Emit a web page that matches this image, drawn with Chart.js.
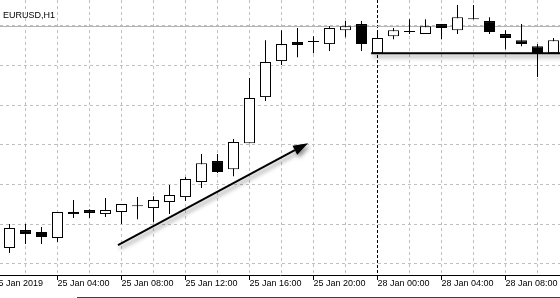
<!DOCTYPE html>
<html>
<head>
<meta charset="utf-8">
<title>EURUSD,H1</title>
<script src="https://cdn.jsdelivr.net/npm/chart.js@4.4.1/dist/chart.umd.min.js"></script>
<style>
  html, body { margin: 0; padding: 0; background: #fff; }
  #wrap { position: relative; width: 560px; height: 298px; overflow: hidden; }
</style>
</head>
<body>
<div id="wrap"><canvas id="chart" width="560" height="298"></canvas></div>
<script>
// hour index of each bar: 0 = 25 Jan 00:00 ... 23 = 25 Jan 23:00, 24 = 28 Jan 00:00
const barIndex = [1, 2, 3, 4, 5, 6, 7, 8, 9, 10, 11, 12, 13, 14, 15, 16, 17, 18, 19, 20, 21, 22, 23,
                  24, 25, 26, 27, 28, 29, 30, 31, 32, 33, 34, 35];
const open  = [1.12849, 1.12962, 1.12950, 1.12912, 1.13063, 1.13088, 1.13063, 1.13076, 1.13113, 1.13101,
               1.13139, 1.13170, 1.13265, 1.13397, 1.13346, 1.13510, 1.13800, 1.14027, 1.14147, 1.14147,
               1.14134, 1.14222, 1.14260, 1.14077, 1.14184, 1.14210, 1.14197, 1.14260, 1.14222, 1.14291,
               1.14279, 1.14197, 1.14159, 1.14121, 1.14077];
const high  = [1.13000, 1.13000, 1.12981, 1.13076, 1.13151, 1.13094, 1.13164, 1.13126, 1.13170, 1.13176,
               1.13246, 1.13296, 1.13441, 1.13441, 1.13536, 1.13920, 1.14159, 1.14222, 1.14235, 1.14184,
               1.14247, 1.14279, 1.14279, 1.14210, 1.14235, 1.14291, 1.14291, 1.14260, 1.14380, 1.14380,
               1.14304, 1.14222, 1.14260, 1.14134, 1.14172];
const low   = [1.12817, 1.12874, 1.12874, 1.12887, 1.13038, 1.13038, 1.13044, 1.13000, 1.13031, 1.13013,
               1.13063, 1.13145, 1.13227, 1.13321, 1.13302, 1.13510, 1.13775, 1.14002, 1.14052, 1.14077,
               1.14090, 1.14178, 1.14090, 1.14077, 1.14165, 1.14197, 1.14197, 1.14165, 1.14197, 1.14291,
               1.14197, 1.14102, 1.14121, 1.13926, 1.14077];
const close = [1.12975, 1.12937, 1.12918, 1.13076, 1.13076, 1.13069, 1.13088, 1.13126, 1.13113, 1.13151,
               1.13183, 1.13284, 1.13384, 1.13328, 1.13517, 1.13794, 1.14021, 1.14134, 1.14128, 1.14147,
               1.14235, 1.14247, 1.14134, 1.14172, 1.14222, 1.14210, 1.14247, 1.14235, 1.14304, 1.14291,
               1.14210, 1.14172, 1.14134, 1.14071, 1.14159];

// time axis
const tickIndex  = [0, 4, 8, 12, 16, 20, 24, 28, 32];
const tickLabels = ['25 Jan 2019', '25 Jan 04:00', '25 Jan 08:00', '25 Jan 12:00', '25 Jan 16:00',
                    '25 Jan 20:00', '28 Jan 00:00', '28 Jan 04:00', '28 Jan 08:00'];
const gridIndex  = [0, 2, 4, 6, 8, 10, 12, 14, 16, 18, 20, 22, 24, 26, 28, 30, 32, 34];
const separatorIndex = 24;
const priceStep = 0.0025;

// objects drawn on the chart (bar index, price)
const levelPrice = 1.1425;
const hLine = [[23.6, 1.14077], [36, 1.14077]];
const arrowLine = [[7.78, 1.12868], [19.66, 1.13510]];

const bodyColors = open.map((o, k) => close[k] > o ? '#ffffff' : '#000000');

const drawings = {
  id: 'drawings',
  beforeDatasetsDraw(chart) {
    const { ctx, chartArea, scales: { y } } = chart;
    const py = Math.round(y.getPixelForValue(levelPrice)) + 0.5;
    ctx.save();
    ctx.strokeStyle = '#b4b4b4';
    ctx.lineWidth = 1;
    ctx.beginPath();
    ctx.moveTo(chartArea.left, py);
    ctx.lineTo(chartArea.right, py);
    ctx.stroke();
    ctx.restore();
  },
  afterDatasetsDraw(chart) {
    const { ctx, scales: { x, y } } = chart;
    ctx.save();
    ctx.shadowColor = 'rgba(0,0,0,0.45)';
    ctx.shadowBlur = 4;
    ctx.shadowOffsetX = 2;
    ctx.shadowOffsetY = 3;
    ctx.strokeStyle = '#000';
    ctx.fillStyle = '#000';
    ctx.lineWidth = 2;

    // horizontal line
    ctx.beginPath();
    ctx.moveTo(x.getPixelForValue(hLine[0][0]), y.getPixelForValue(hLine[0][1]));
    ctx.lineTo(x.getPixelForValue(hLine[1][0]), y.getPixelForValue(hLine[1][1]));
    ctx.stroke();

    // arrow
    const x1 = x.getPixelForValue(arrowLine[0][0]), y1 = y.getPixelForValue(arrowLine[0][1]);
    const x2 = x.getPixelForValue(arrowLine[1][0]), y2 = y.getPixelForValue(arrowLine[1][1]);
    const ang = Math.atan2(y2 - y1, x2 - x1);
    const headLen = 15, headW = 5;
    const bx = x2 - headLen * Math.cos(ang), by = y2 - headLen * Math.sin(ang);
    ctx.beginPath();
    ctx.moveTo(x1, y1);
    ctx.lineTo(bx, by);
    ctx.stroke();
    ctx.beginPath();
    ctx.moveTo(x2, y2);
    ctx.lineTo(bx + headW * Math.sin(ang), by - headW * Math.cos(ang));
    ctx.lineTo(bx - headW * Math.sin(ang), by + headW * Math.cos(ang));
    ctx.closePath();
    ctx.fill();
    ctx.restore();
  },
  afterDraw(chart) {
    const ctx = chart.ctx;
    ctx.save();
    ctx.fillStyle = '#000';
    ctx.font = '9px "Liberation Sans", Arial, sans-serif';
    ctx.textBaseline = 'alphabetic';
    ctx.fillText('EURUSD,H1', 3, 17.5);
    // window frame at the bottom
    ctx.fillStyle = '#404040';
    ctx.fillRect(77, 297, 483, 1);
    ctx.restore();
  }
};

new Chart(document.getElementById('chart'), {
  type: 'bar',
  data: {
    datasets: [
      {
        label: 'body',
        data: barIndex.map((x, k) => ({ x: x, y: [open[k], close[k]] })),
        backgroundColor: bodyColors,
        borderColor: '#000',
        borderWidth: 1,
        borderSkipped: false,
        barThickness: 11,
        minBarLength: 1,
        inflateAmount: 0,
        grouped: false
      },
      {
        label: 'wick',
        data: barIndex.map((x, k) => ({ x: x, y: [low[k], high[k]] })),
        backgroundColor: '#000',
        borderWidth: 0,
        barThickness: 1,
        inflateAmount: 0,
        grouped: false
      }
    ]
  },
  options: {
    responsive: false,
    animation: false,
    devicePixelRatio: 1,
    layout: { padding: 0 },
    plugins: {
      legend: { display: false },
      tooltip: { enabled: false }
    },
    scales: {
      x: {
        type: 'linear',
        min: 0.40625,
        max: 35.40625,
        offset: false,
        afterBuildTicks: (s) => { s.ticks = gridIndex.map(v => ({ value: v })); },
        afterFit: (s) => { s.height = 23; s.paddingLeft = 0; s.paddingRight = 0; },
        grid: {
          offset: false,
          lineWidth: 1,
          color: (c) => (c.tick && c.tick.value === separatorIndex) ? '#000' : '#c0c0c0',
          tickColor: (c) => (c.tick && tickIndex.includes(c.tick.value)) ? '#000' : 'rgba(0,0,0,0)',
          tickLength: 5
        },
        border: {
          display: true,
          color: '#000',
          width: 1,
          dash: (c) => (c.tick && c.tick.value === separatorIndex) ? [3, 2] : [3, 3]
        },
        ticks: {
          autoSkip: false,
          maxRotation: 0,
          align: 'start',
          padding: -2,
          color: '#000',
          font: { family: '"Liberation Sans", Arial, sans-serif', size: 9 },
          callback: (v) => {
            const k = tickIndex.indexOf(v);
            return k >= 0 ? tickLabels[k] : '';
          }
        }
      },
      y: {
        type: 'linear',
        min: 1.12679,
        max: 1.14412,
        afterFit: (s) => { s.width = 0; s.paddingTop = 0; s.paddingBottom = 0; },
        grid: { color: '#c0c0c0', drawTicks: false, lineWidth: 1 },
        border: { display: false, dash: [3, 3] },
        ticks: { display: false, stepSize: priceStep, includeBounds: false }
      }
    }
  },
  plugins: [drawings]
});
</script>
</body>
</html>
